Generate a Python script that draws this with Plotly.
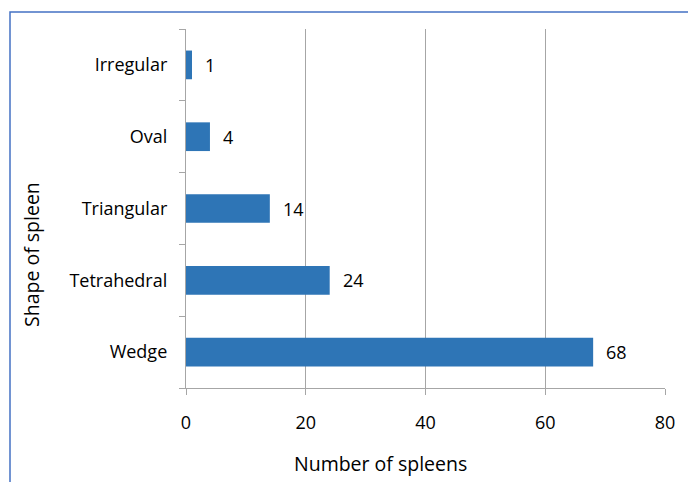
import plotly.graph_objects as go

categories = ["Wedge", "Tetrahedral", "Triangular", "Oval", "Irregular"]
counts = [68, 24, 14, 4, 1]
x_ticks = [0, 20, 40, 60, 80]
x_title = "Number of spleens"
y_title = "Shape of spleen"

FONT = "Open Sans"
fig = go.Figure()
fig.add_trace(go.Bar(
    y=categories, x=counts, orientation="h",
    marker=dict(color="#2E75B6", line=dict(width=0)),
    hoverinfo="x+y",
))
for c, v in zip(categories, counts):
    fig.add_annotation(x=v, y=c, text=str(v), showarrow=False, xanchor="left",
                       xshift=11, font=dict(family=FONT, size=18, color="#000"))

# page body has an 8px margin, so the figure starts at (8, 8)
OFF = 8
L, T = 186 - OFF, 29 - OFF
W, H = 696 - OFF, 482 - OFF
pw, ph = 665 - 186, 388 - 29
R, B = W - L - pw, H - T - ph
fig.add_shape(type="rect", xref="paper", yref="paper",
              x0=(10 - 186) / pw, x1=(689 - 186) / pw,
              y0=-(482 - 388 + 20) / ph, y1=1 + (29 - 12) / ph,
              line=dict(color="#4472C4", width=1.5), layer="below")

# axis titles (placed as in the reference, offset from the plot centre)
fig.add_annotation(xref="paper", yref="paper", x=(380 - 186) / pw, y=(388 - 463) / ph,
                   text=x_title, showarrow=False, xanchor="center", yanchor="middle",
                   font=dict(family=FONT, size=19.5, color="#000"))
fig.add_annotation(xref="paper", yref="paper", x=(31 - 186) / pw, y=(388 - 255) / ph,
                   text=y_title, showarrow=False, textangle=-90,
                   xanchor="center", yanchor="middle",
                   font=dict(family=FONT, size=19.5, color="#000"))

fig.update_layout(
    width=W, height=H, margin=dict(l=L, r=R, t=T, b=B, autoexpand=False),
    plot_bgcolor="white", paper_bgcolor="white",
    bargap=0.6, showlegend=False,
    font=dict(family=FONT, size=18, color="#000"),
    xaxis=dict(range=[0, 80], tickvals=x_ticks, showgrid=True, gridcolor="#A6A6A6",
               gridwidth=1.3, zeroline=False, showline=True, linecolor="#A6A6A6",
               linewidth=1.3, ticks="outside", ticklen=6, tickcolor="#A6A6A6",
               ticklabelstandoff=12),
    yaxis=dict(showgrid=False, showline=True, linecolor="#A6A6A6", linewidth=1.3,
               ticks="outside", ticklen=6, tickcolor="#A6A6A6", tickson="boundaries",
               ticklabelstandoff=14),
)
fig.write_html("out.html")
